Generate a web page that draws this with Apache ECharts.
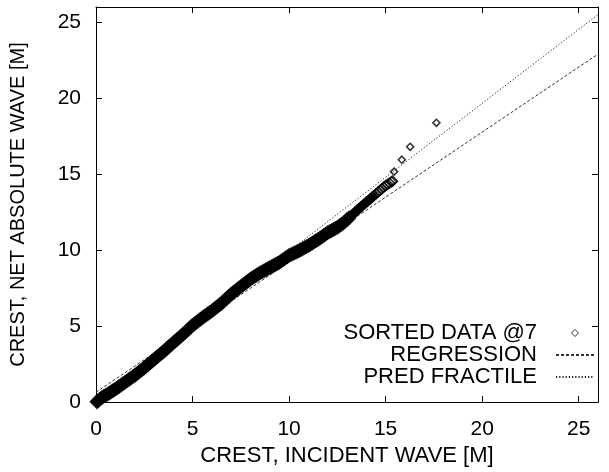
<!DOCTYPE html>
<html>
<head>
<meta charset="utf-8">
<script src="https://cdn.jsdelivr.net/npm/echarts@6/dist/echarts.min.js"></script>
<style>html,body{margin:0;padding:0;background:#fff}#c{width:609px;height:472px}</style>
</head>
<body>
<div id="c"></div>
<script>
// Sorted data (crest of incident wave vs crest of net absolute wave), metres
const incidentCrest = [0.05,0.1,0.2,0.3,0.4,0.5,0.6,0.7,0.8,0.9,1.0,1.1,1.2,1.3,1.4,1.5,1.6,1.7,1.8,1.9,2.0,2.1,2.2,2.3,2.4,2.5,2.6,2.7,2.8,2.9,3.0,3.1,3.2,3.3,3.4,3.5,3.6,3.7,3.8,3.9,4.0,4.1,4.2,4.3,4.4,4.5,4.6,4.7,4.8,4.9,5.0,5.1,5.2,5.3,5.4,5.5,5.6,5.7,5.8,5.9,6.0,6.1,6.2,6.3,6.4,6.5,6.6,6.7,6.8,6.9,7.0,7.1,7.2,7.3,7.4,7.5,7.6,7.7,7.8,7.9,8.0,8.1,8.2,8.3,8.4,8.5,8.6,8.7,8.8,8.9,9.0,9.1,9.2,9.3,9.4,9.5,9.6,9.7,9.8,9.9,10.0,10.1,10.2,10.3,10.4,10.5,10.6,10.7,10.8,10.9,11.0,11.1,11.2,11.3,11.4,11.5,11.6,11.7,11.8,11.9,12.0,12.1,12.2,12.3,12.4,12.5,12.6,12.7,12.8,12.9,13.0,13.1,13.2,13.3,13.4,13.5,13.6,13.7,13.8,13.9,14.0,14.1,14.2,14.3,14.4,14.5,14.6,14.7,14.8,14.9,15.0,15.1,15.2,15.3,15.36,15.44,15.84,16.27,17.63];
const netCrest = [0.02,0.08,0.2,0.3,0.37,0.45,0.52,0.6,0.69,0.77,0.85,0.94,1.03,1.12,1.21,1.3,1.39,1.48,1.57,1.66,1.75,1.85,1.95,2.05,2.15,2.25,2.36,2.47,2.58,2.69,2.8,2.91,3.01,3.12,3.22,3.33,3.44,3.56,3.67,3.79,3.9,4.01,4.12,4.23,4.34,4.45,4.57,4.69,4.81,4.93,5.05,5.15,5.25,5.35,5.45,5.55,5.64,5.73,5.82,5.91,6.0,6.1,6.2,6.3,6.4,6.5,6.62,6.74,6.86,6.98,7.1,7.2,7.3,7.4,7.5,7.6,7.7,7.8,7.9,8.0,8.1,8.18,8.26,8.34,8.42,8.5,8.57,8.64,8.71,8.78,8.85,8.92,8.99,9.06,9.13,9.2,9.29,9.38,9.47,9.56,9.65,9.71,9.77,9.83,9.89,9.95,10.02,10.09,10.16,10.23,10.3,10.38,10.46,10.54,10.62,10.7,10.79,10.88,10.97,11.06,11.15,11.22,11.29,11.36,11.43,11.5,11.59,11.68,11.78,11.89,12.0,12.12,12.24,12.36,12.48,12.6,12.71,12.82,12.93,13.04,13.15,13.26,13.37,13.48,13.59,13.7,13.81,13.92,14.03,14.14,14.25,14.33,14.41,14.5,14.54,15.17,15.95,16.8,18.38];
// Fitted lines (end points across the plotted range)
const regressionX = [0, 26];
const regressionY = [0.65, 22.9];
const fractileX = [0, 26];
const fractileY = [0.2, 25.5];
const tickValues = [0, 5, 10, 15, 20, 25];

const FONT = 'Liberation Sans, Arial, Helvetica, sans-serif';
const pairs = (xs, ys) => xs.map((x, i) => [x, ys[i]]);

const axisCommon = {
  type: 'value', min: 0, max: 26, interval: 5,
  axisLine: { show: true, onZero: false, lineStyle: { color: '#000', width: 1 } },
  axisTick: { show: true, inside: true, length: 6, lineStyle: { color: '#000' } },
  splitLine: { show: false }
};

const chart = echarts.init(document.getElementById('c'), null, { renderer: 'canvas' });
chart.setOption({
  animation: false,
  backgroundColor: '#fff',
  textStyle: { fontFamily: FONT },
  grid: { left: 96, right: 11, top: 7, bottom: 62, containLabel: false },
  xAxis: [
    Object.assign({}, axisCommon, {
      position: 'bottom',
      name: 'CREST, INCIDENT WAVE [M]', nameLocation: 'middle', nameGap: 32,
      nameTextStyle: { fontSize: 22, color: '#000', fontFamily: FONT },
      axisLabel: { show: true, fontSize: 21, color: '#000', margin: 17, fontFamily: FONT,
        formatter: v => tickValues.includes(v) ? String(v) : '' }
    }),
    Object.assign({}, axisCommon, { position: 'top', axisLabel: { show: false } })
  ],
  yAxis: [
    Object.assign({}, axisCommon, {
      position: 'left',
      name: 'CREST, NET ABSOLUTE WAVE [M]', nameLocation: 'middle', nameGap: 68, nameRotate: 90,
      nameTextStyle: { fontSize: 20, color: '#000', fontFamily: FONT },
      axisLabel: { show: true, fontSize: 21, color: '#000', margin: 15, fontFamily: FONT,
        formatter: v => tickValues.includes(v) ? String(v) : '' }
    }),
    Object.assign({}, axisCommon, { position: 'right', axisLabel: { show: false } })
  ],
  legend: {
    orient: 'vertical', align: 'right', right: 14, top: 322, padding: 0,
    itemWidth: 38, itemHeight: 7, itemGap: 0,
    symbolKeepAspect: true,
    textStyle: { fontSize: 22, color: '#000', fontFamily: FONT, padding: [0, 14, 0, 0] },
    data: [
      { name: 'SORTED DATA @7', icon: 'path://M0,-1L1,0L0,1L-1,0Z',
        itemStyle: { color: 'rgba(255,255,255,0)', borderColor: '#000', borderWidth: 1 } },
      { name: 'REGRESSION', itemStyle: { opacity: 0 } },
      { name: 'PRED FRACTILE', itemStyle: { opacity: 0 } }
    ]
  },
  series: [
    {
      name: 'SORTED DATA @7', type: 'scatter',
      data: pairs(incidentCrest, netCrest),
      symbol: 'diamond',
      symbolSize: v => v[0] < 13.2 ? 13 : (v[0] < 15.4 ? 10 : 7),
      itemStyle: {
        color: p => p.value[0] < 14.5 ? '#000' : 'rgba(255,255,255,0)',
        borderColor: '#000', borderWidth: 1.6
      },
      z: 3
    },
    {
      name: 'REGRESSION', type: 'line',
      data: pairs(regressionX, regressionY),
      showSymbol: false, symbol: 'none',
      lineStyle: { color: '#333', width: 1, type: [3, 2] },
      z: 2
    },
    {
      name: 'PRED FRACTILE', type: 'line',
      data: pairs(fractileX, fractileY),
      showSymbol: false, symbol: 'none',
      lineStyle: { color: '#222', width: 1, type: [1.2, 2] },
      z: 2
    }
  ]
});
</script>
</body>
</html>
